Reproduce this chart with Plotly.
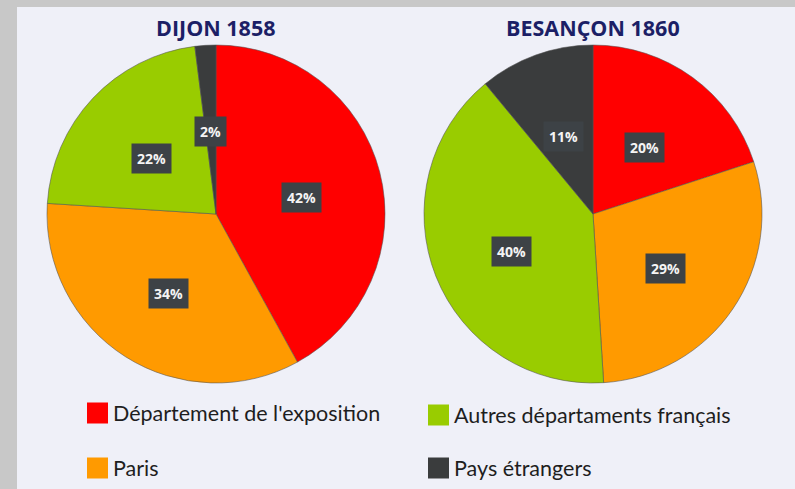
import math
import plotly.graph_objects as go

# ---- data ----
categories = ["Département de l'exposition", "Paris", "Autres départaments français", "Pays étrangers"]
dijon_1858 = [42, 34, 22, 2]
besancon_1860 = [20, 29, 40, 11]
chart_titles = ["DIJON 1858", "BESANÇON 1860"]
legend_order = ["Département de l'exposition", "Autres départaments français", "Paris", "Pays étrangers"]

# ---- styles / geometry ----
W, H = 795, 489
colors = {"Département de l'exposition": "#ff0000",
          "Paris": "#ff9a00",
          "Autres départaments français": "#99cc00",
          "Pays étrangers": "#3a3c3d"}
centers_px = [(216, 214), (593, 214)]
radius_px = 169
label_frac = 0.52

fig = go.Figure()
annotations = []
shapes = []

# page (scanned sheet) over grey frame
shapes.append(dict(type="rect", xref="paper", yref="paper",
                   x0=17 / W, x1=1, y0=0, y1=1 - 7 / H,
                   fillcolor="#eff0f8", line=dict(width=0), layer="below"))

for (cx, cy), vals, title in zip(centers_px, [dijon_1858, besancon_1860], chart_titles):
    dom_x = [(cx - radius_px) / W, (cx + radius_px) / W]
    dom_y = [1 - (cy + radius_px) / H, 1 - (cy - radius_px) / H]
    fig.add_trace(go.Pie(
        labels=categories, values=vals, sort=False, direction="clockwise", rotation=0,
        marker=dict(colors=[colors[c] for c in categories],
                    line=dict(color="rgba(80,80,80,0.55)", width=1)),
        textinfo="none", hoverinfo="label+percent", showlegend=False,
        domain=dict(x=dom_x, y=dom_y)))
    # data labels in dark boxes, positioned from slice mid-angles
    total = sum(vals)
    cum = 0
    for v in vals:
        mid = (cum + v / 2) / total * 2 * math.pi
        cum += v
        lx = cx + label_frac * radius_px * math.sin(mid)
        ly = cy - label_frac * radius_px * math.cos(mid)
        annotations.append(dict(x=lx / W, y=1 - ly / H, xref="paper", yref="paper",
                                xanchor="center", yanchor="middle", yshift=-5,
                                text=f"<b>{v}%</b>", showarrow=False,
                                font=dict(family="Open Sans", size=14, color="#f4f4f4"),
                                bgcolor="#3d4246", borderpad=5))
    annotations.append(dict(x=cx / W, y=1 - 27 / H, xref="paper", yref="paper",
                            xanchor="center", yanchor="middle",
                            text=f"<b>{title}</b>", showarrow=False,
                            font=dict(family="Open Sans", size=21.5, color="#1c1f66")))

# manual 2x2 legend
legend_slots = [(87, 413), (428, 415), (87, 468), (428, 468)]
for name, (lx, ly) in zip(legend_order, legend_slots):
    shapes.append(dict(type="rect", xref="paper", yref="paper",
                       x0=lx / W, x1=(lx + 21) / W, y0=1 - (ly + 10.5) / H, y1=1 - (ly - 10.5) / H,
                       fillcolor=colors[name], line=dict(width=0)))
    annotations.append(dict(x=(lx + 24) / W, y=1 - ly / H, xref="paper", yref="paper",
                            text=name, showarrow=False, xanchor="left", yanchor="middle",
                            font=dict(family="Lato", size=21.5, color="#1e1e1e")))

fig.update_layout(
    width=W, height=H,
    margin=dict(l=0, r=0, t=0, b=0),
    paper_bgcolor="#c8c8c8",
    plot_bgcolor="#eff0f8",
    shapes=shapes, annotations=annotations,
    showlegend=False,
)

fig.write_html("out.html", config={"displayModeBar": False},
               post_script="document.body.style.margin='0';")
